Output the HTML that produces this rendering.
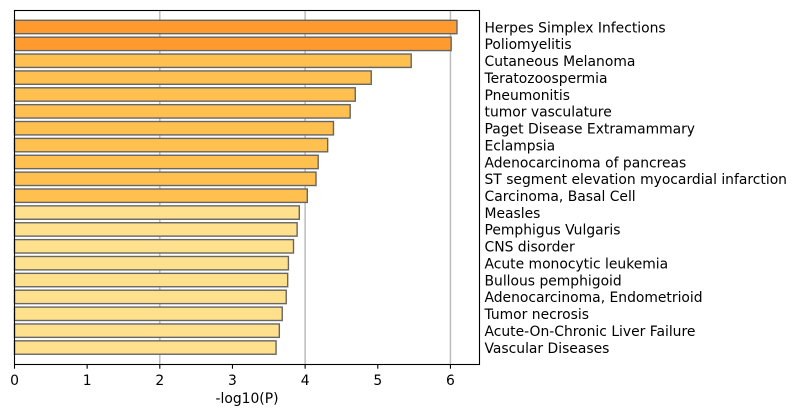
<!DOCTYPE html>
<html>
<head>
<meta charset="utf-8">
<style>
html,body{margin:0;padding:0;background:#fff;width:797px;height:417px;overflow:hidden}
svg{display:block}
text{font-family:"DejaVu Sans","Liberation Sans",sans-serif;font-size:13.89px;fill:#000}
</style>
</head>
<body>
<svg id="chart" width="797" height="417" viewBox="0 0 797 417" xmlns="http://www.w3.org/2000/svg"></svg>
<script>
const categories = ["Herpes Simplex Infections","Poliomyelitis","Cutaneous Melanoma","Teratozoospermia","Pneumonitis","tumor vasculature","Paget Disease Extramammary","Eclampsia","Adenocarcinoma of pancreas","ST segment elevation myocardial infarction","Carcinoma, Basal Cell","Measles","Pemphigus Vulgaris","CNS disorder","Acute monocytic leukemia","Bullous pemphigoid","Adenocarcinoma, Endometrioid","Tumor necrosis","Acute-On-Chronic Liver Failure","Vascular Diseases"];
const logP = [6.09,6.01,5.46,4.91,4.69,4.62,4.39,4.31,4.18,4.15,4.03,3.92,3.89,3.84,3.77,3.76,3.74,3.685,3.645,3.60];
const xTicks = [0,1,2,3,4,5,6];
const gridTicks = [2,4,6];
const xMax = 6.4;
const xTitle = "-log10(P)";

const NS = "http://www.w3.org/2000/svg";
const svg = document.getElementById("chart");
const plot = {left:14.5, right:479.5, top:10.5, bottom:364.5};
const band = 16.87;
const firstCenter = 27;
const xScale = v => plot.left + (v / xMax) * (plot.right - plot.left);
const yScale = i => firstCenter + i * band;
const barColor = v => v >= 6 ? "#ff9a2e" : v >= 4 ? "#ffc04f" : "#ffe08d";

function make(tag, attrs, text) {
  const el = document.createElementNS(NS, tag);
  for (const k in attrs) el.setAttribute(k, attrs[k]);
  if (text !== undefined) el.textContent = text;
  svg.appendChild(el);
  return el;
}

gridTicks.forEach(t => {
  const el = make("line", {x1:xScale(t), x2:xScale(t), y1:plot.top, y2:plot.bottom, stroke:"#bcbcbc", "stroke-width":1.5});
  
  
});

logP.forEach((v, i) => {
  const h = 13.4;
  const bar = make("rect", {x:xScale(0), y:yScale(i) - h / 2, width:xScale(v) - xScale(0), height:h, fill:barColor(v), stroke:"#666666", "stroke-width":1.4});
  
  
  const label = make("text", {x:484.5, y:yScale(i) + 5.3}, categories[i]);
  
  
});

const frame = make("rect", {x:plot.left, y:plot.top, width:plot.right - plot.left, height:plot.bottom - plot.top, fill:"none", stroke:"#000", "stroke-width":1.1});



xTicks.forEach(t => {
  const tick = make("line", {x1:xScale(t), x2:xScale(t), y1:plot.bottom, y2:plot.bottom + 4.2, stroke:"#000", "stroke-width":1.1});
  
  
  const label = make("text", {x:xScale(t), y:385, "text-anchor":"middle"}, String(t));
  
  
});

const title = make("text", {x:(plot.left + plot.right) / 2, y:403, "text-anchor":"middle"}, xTitle);


</script>
</body>
</html>
